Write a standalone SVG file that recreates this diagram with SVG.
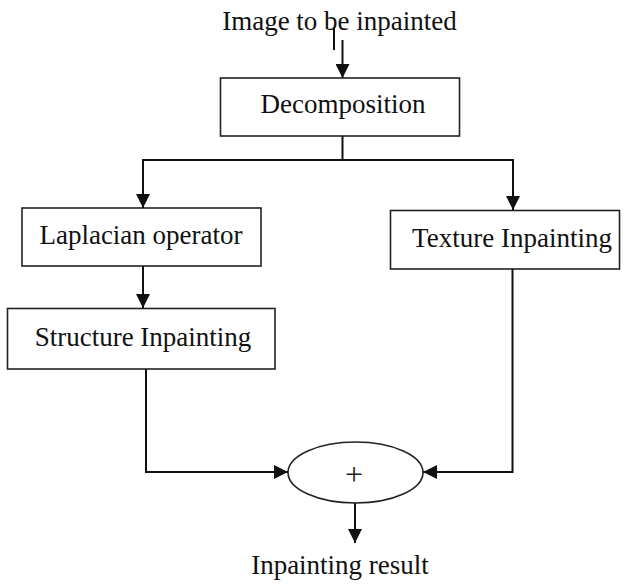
<svg xmlns="http://www.w3.org/2000/svg" width="628" height="584" viewBox="0 0 628 584">
<defs>
<style>
.box{fill:#fff;stroke:#222;stroke-width:1.6}
.lbl{font-family:"Liberation Serif","Times New Roman",serif;font-size:27px;fill:#111;text-anchor:middle}
.ln{fill:none;stroke:#111;stroke-width:2}
</style>
<marker id="ah" viewBox="0 0 14 14" refX="14" refY="7" markerWidth="14" markerHeight="14" markerUnits="userSpaceOnUse" orient="auto">
<path d="M0,0 L14,7 L0,14 Z" fill="#111"/>
</marker>
</defs>
<rect width="628" height="584" fill="#fff"/>
<g id="input">
<text class="lbl" x="339.5" y="30">Image to be inpainted</text>
</g>
<g id="decomposition">
<rect class="box" x="220.5" y="78" width="239" height="58"/>
<text class="lbl" x="343" y="113">Decomposition</text>
</g>
<g id="laplacian">
<rect class="box" x="22" y="208" width="239" height="58"/>
<text class="lbl" x="141" y="244">Laplacian operator</text>
</g>
<g id="texture">
<rect class="box" x="390.5" y="210.5" width="229" height="58.5"/>
<text class="lbl" x="512" y="247">Texture Inpainting</text>
</g>
<g id="structure">
<rect class="box" x="7.5" y="308.5" width="267.5" height="60.5"/>
<text class="lbl" x="143" y="346">Structure Inpainting</text>
</g>
<g id="sum">
<ellipse class="box" cx="355.5" cy="472.5" rx="67.5" ry="30.5"/>
<text x="354" y="485" font-family="Liberation Serif, serif" font-size="32" fill="#222" text-anchor="middle">+</text>
</g>
<g id="output">
<text class="lbl" x="340" y="574">Inpainting result</text>
</g>
<g id="connectors">
<line class="ln" x1="334" y1="27" x2="334" y2="50"/>
<line class="ln" x1="342.5" y1="40" x2="342.5" y2="78" marker-end="url(#ah)"/>
<polyline class="ln" points="342.5,136 342.5,160 143,160 143,208" marker-end="url(#ah)"/>
<polyline class="ln" points="342.5,160 513,160 513,210" marker-end="url(#ah)"/>
<line class="ln" x1="143" y1="266" x2="143" y2="308" marker-end="url(#ah)"/>
<polyline class="ln" points="146,369 146,472 288,472" marker-end="url(#ah)"/>
<polyline class="ln" points="512.5,269 512.5,472 423,472" marker-end="url(#ah)"/>
<line class="ln" x1="355" y1="503" x2="355" y2="543" marker-end="url(#ah)"/>
</g>
</svg>
